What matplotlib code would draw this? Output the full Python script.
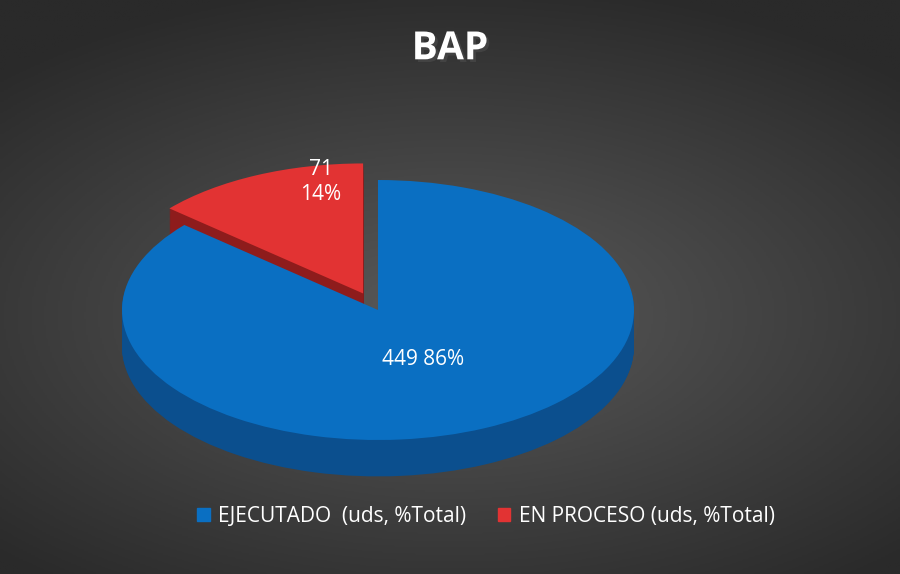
import numpy as np
import matplotlib.pyplot as plt
import matplotlib.patheffects as pe

plt.rcParams['font.family'] = ['Open Sans', 'DejaVu Sans']

categories = ["EJECUTADO  (uds, %Total)", "EN PROCESO (uds, %Total)"]
values = [449, 71]
title = "BAP"
top_colors = ["#0A6FC2", "#E23333"]
side_colors = ["#0B4F8E", "#8E1C1C"]

fig = plt.figure(figsize=(9, 5.74), dpi=100)
bg = fig.add_axes([0, 0, 1, 1])
yy, xx = np.mgrid[-1:1:300j, -1:1:470j]
r = np.sqrt((xx * 0.9) ** 2 + ((yy - 0.1) * 1.1) ** 2)
bg.imshow(np.clip(r, 0, 1.3), cmap=plt.matplotlib.colors.LinearSegmentedColormap.from_list(
    "g", ["#5a5a5a", "#2a2a2a"]), aspect="auto", extent=[0, 1, 0, 1], vmin=0, vmax=1.3)
bg.axis("off")

ax = fig.add_axes([122 / 900, 95 / 574, 512 / 900, 338 / 574])

explode = [0, 0.14]
depth = 0.28
n = 40
for k in range(n, 0, -1):
    ax.pie(values, startangle=90, counterclock=False, explode=explode,
           colors=side_colors, center=(0, -depth * k / n), radius=1,
           wedgeprops=dict(linewidth=0), frame=True)
wedges, _ = ax.pie(values, startangle=90, counterclock=False, explode=explode,
                   colors=top_colors, radius=1, wedgeprops=dict(linewidth=0), frame=True)
ax.set_aspect("auto")
ax.set_xlim(-1, 1)
ax.set_ylim(-1.3, 1.3)
ax.axis("off")

total = sum(values)
for i, (w, v) in enumerate(zip(wedges, values)):
    mid = np.deg2rad((w.theta1 + w.theta2) / 2)
    pct = round(100 * v / total)
    if i == 0:
        rr = 0.42
        ax.text(rr * np.cos(mid), rr * np.sin(mid), f"{v} {pct}%", color="white",
                fontsize=15, ha="center", va="center")
    else:
        rr = 0.72
        x, y = rr * np.cos(mid) * 0.75, rr * np.sin(mid) + 0.33
        ax.text(x, y, f"{v}\n{pct}%", color="white", fontsize=15, ha="center",
                va="center", linespacing=1.3)

fig.text(0.5, 0.915, title, color="white", fontsize=28, fontweight="bold", ha="center",
         va="center", path_effects=[pe.withSimplePatchShadow(offset=(2, -2), alpha=0.6)])

handles = [plt.Rectangle((0, 0), 1, 1, color=c) for c in top_colors]
fig.legend(handles, categories, loc="center", bbox_to_anchor=(0.54, 0.1), ncol=2,
           frameon=False, fontsize=15, labelcolor="white", handlelength=0.6,
           handleheight=0.6, columnspacing=1.5, handletextpad=0.4)

fig.savefig("out.png", dpi=100)
